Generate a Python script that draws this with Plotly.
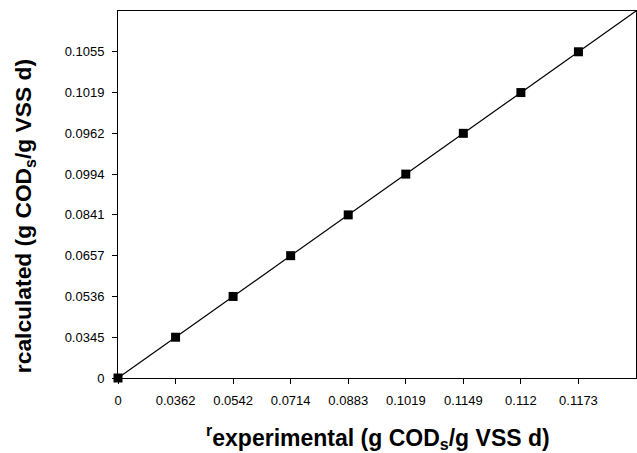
import numpy as np
import plotly.graph_objects as go

x_labels = ["0", "0.0362", "0.0542", "0.0714", "0.0883", "0.1019", "0.1149", "0.112", "0.1173"]
y_labels = ["0", "0.0345", "0.0536", "0.0657", "0.0841", "0.0994", "0.0962", "0.1019", "0.1055"]

# points sit at evenly spaced category positions
x_pos = list(range(len(x_labels)))
y_pos = list(range(len(y_labels)))

slope, intercept = np.polyfit(x_pos, y_pos, 1)
x_fit = np.array([0, len(x_labels)])
y_fit = slope * x_fit + intercept

fig = go.Figure()
fig.add_trace(go.Scatter(x=x_fit, y=y_fit, mode="lines",
                         line=dict(color="black", width=1.2), showlegend=False))
fig.add_trace(go.Scatter(x=x_pos, y=y_pos, mode="markers",
                         marker=dict(symbol="square", size=9, color="black"),
                         showlegend=False, cliponaxis=False))

font_family = "Liberation Sans, Arial, sans-serif"
fig.update_layout(
    width=637, height=453,
    margin=dict(l=118, r=1, t=11, b=75),
    paper_bgcolor="white", plot_bgcolor="white",
    font=dict(family=font_family, color="black", size=13),
    xaxis=dict(range=[0, len(x_labels)], tickvals=x_pos, ticktext=x_labels,
               ticks="outside", ticklen=5, tickcolor="black", tickwidth=1,
               showline=True, linecolor="black", linewidth=1, mirror=True,
               showgrid=False, zeroline=False, ticklabelstandoff=5,
               tickfont=dict(size=13)),
    yaxis=dict(range=[0, len(y_labels)], tickvals=y_pos, ticktext=y_labels,
               ticks="outside", ticklen=5, tickcolor="black", tickwidth=1,
               showline=True, linecolor="black", linewidth=1, mirror=True,
               showgrid=False, zeroline=False, ticklabelstandoff=5,
               tickfont=dict(size=13)),
    annotations=[
        dict(text="<b><sup>r</sup>experimental (g COD<sub>s</sub>/g VSS d)</b>",
             xref="paper", yref="paper", x=0.502, y=-0.161,
             xanchor="center", yanchor="middle", showarrow=False,
             font=dict(size=23)),
        dict(text="<b>rcalculated (g COD<sub>s</sub>/g VSS d)</b>",
             xref="paper", yref="paper", x=-0.1815, y=0.441, textangle=-90,
             xanchor="center", yanchor="middle", showarrow=False,
             font=dict(size=22.8)),
    ],
)

fig.write_html("out.html")
